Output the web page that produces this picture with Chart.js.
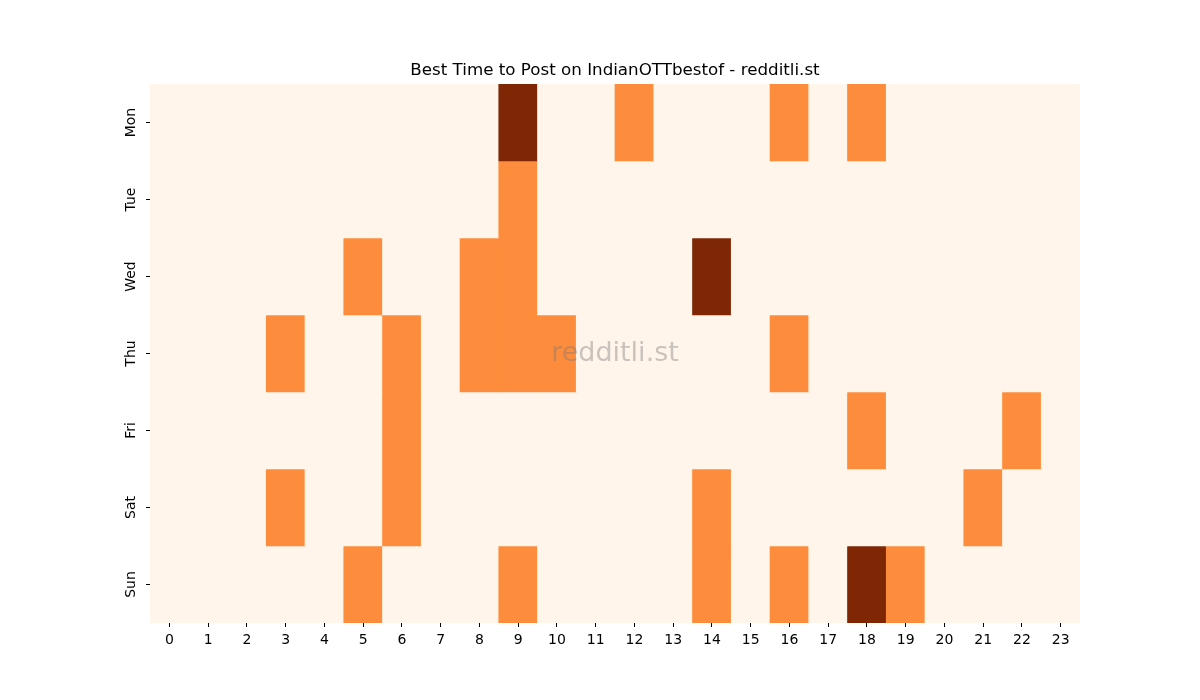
<!DOCTYPE html>
<html>
<head>
<meta charset="utf-8">
<script src="https://cdn.jsdelivr.net/npm/chart.js@4/dist/chart.umd.min.js"></script>
<style>
    body { margin: 0; background: #fff; }
    canvas { display: block; }
</style>
</head>
<body>
<canvas id="heatmap" width="1200" height="700"></canvas>
<script>
// ---- data (post activity level per hour, 0 = none, 1 = some, 2 = best) ----
const hours = ['0', '1', '2', '3', '4', '5', '6', '7', '8', '9', '10', '11',
    '12', '13', '14', '15', '16', '17', '18', '19', '20', '21', '22', '23'];
const days = ['Mon', 'Tue', 'Wed', 'Thu', 'Fri', 'Sat', 'Sun'];

const mon = [0, 0, 0, 0, 0, 0, 0, 0, 0, 2, 0, 0, 1, 0, 0, 0, 1, 0, 1, 0, 0, 0, 0, 0];
const tue = [0, 0, 0, 0, 0, 0, 0, 0, 0, 1, 0, 0, 0, 0, 0, 0, 0, 0, 0, 0, 0, 0, 0, 0];
const wed = [0, 0, 0, 0, 0, 1, 0, 0, 1, 1, 0, 0, 0, 0, 2, 0, 0, 0, 0, 0, 0, 0, 0, 0];
const thu = [0, 0, 0, 1, 0, 0, 1, 0, 1, 1, 1, 0, 0, 0, 0, 0, 1, 0, 0, 0, 0, 0, 0, 0];
const fri = [0, 0, 0, 0, 0, 0, 1, 0, 0, 0, 0, 0, 0, 0, 0, 0, 0, 0, 1, 0, 0, 0, 1, 0];
const sat = [0, 0, 0, 1, 0, 0, 1, 0, 0, 0, 0, 0, 0, 0, 1, 0, 0, 0, 0, 0, 0, 1, 0, 0];
const sun = [0, 0, 0, 0, 0, 1, 0, 0, 0, 1, 0, 0, 0, 0, 1, 0, 1, 0, 2, 1, 0, 0, 0, 0];

const levels = [mon, tue, wed, thu, fri, sat, sun];

// Oranges colormap steps
const LEVEL_COLORS = ['#fff5eb', '#fd8d3c', '#7f2704'];

const FONT = "'DejaVu Sans', sans-serif";

// watermark in the middle of the plot area
const watermark = {
    id: 'watermark',
    afterDatasetsDraw(chart) {
        const { ctx, chartArea } = chart;
        ctx.save();
        ctx.font = `27px ${FONT}`;
        ctx.fillStyle = 'rgba(120, 120, 120, 0.4)';
        ctx.textAlign = 'center';
        ctx.textBaseline = 'middle';
        ctx.fillText('redditli.st', (chartArea.left + chartArea.right) / 2,
            (chartArea.top + chartArea.bottom) / 2);
        ctx.restore();
    },
};

// one floating-bar dataset per weekday, each cell spans one row
const datasets = days.map((day, d) => ({
    label: day,
    data: hours.map(() => [d, d + 1]),
    backgroundColor: levels[d].map(v => LEVEL_COLORS[v]),
    borderWidth: 0,
    barPercentage: 1,
    categoryPercentage: 1,
    grouped: false,
}));

new Chart(document.getElementById('heatmap'), {
    type: 'bar',
    data: { labels: hours, datasets },
    options: {
        responsive: false,
        animation: false,
        devicePixelRatio: 1,
        layout: { padding: { left: 0, right: 120, top: 0, bottom: 0 } },
        scales: {
            x: {
                grid: {
                    display: true,
                    offset: false,
                    drawOnChartArea: false,
                    drawTicks: true,
                    tickLength: 4,
                    tickColor: '#000',
                    tickWidth: 1,
                },
                border: { display: false },
                ticks: { color: '#000', font: { size: 14, family: FONT }, padding: 5, maxRotation: 0 },
                afterFit: (scale) => { scale.height = 77; },
            },
            y: {
                type: 'linear',
                min: 0,
                max: 7,
                reverse: true,
                grid: {
                    display: true,
                    drawOnChartArea: false,
                    drawTicks: true,
                    tickLength: 4,
                    tickColor: '#000',
                    tickWidth: 1,
                },
                border: { display: false },
                afterBuildTicks: (scale) => {
                    scale.ticks = days.map((_, i) => ({ value: i + 0.5 }));
                },
                ticks: {
                    color: '#000',
                    font: { size: 14, family: FONT },
                    minRotation: 90,
                    maxRotation: 90,
                    crossAlign: 'center',
                    padding: -1,
                    callback: (v) => days[Math.floor(v)],
                },
                afterFit: (scale) => { scale.width = 150; },
            },
        },
        plugins: {
            legend: { display: false },
            tooltip: { enabled: false },
            title: {
                display: true,
                fullSize: false,
                text: 'Best Time to Post on IndianOTTbestof - redditli.st',
                color: '#000',
                font: { size: 16.7, family: FONT, weight: 'normal' },
                padding: { top: 61, bottom: 3 },
            },
        },
    },
    plugins: [watermark],
});
</script>
</body>
</html>
